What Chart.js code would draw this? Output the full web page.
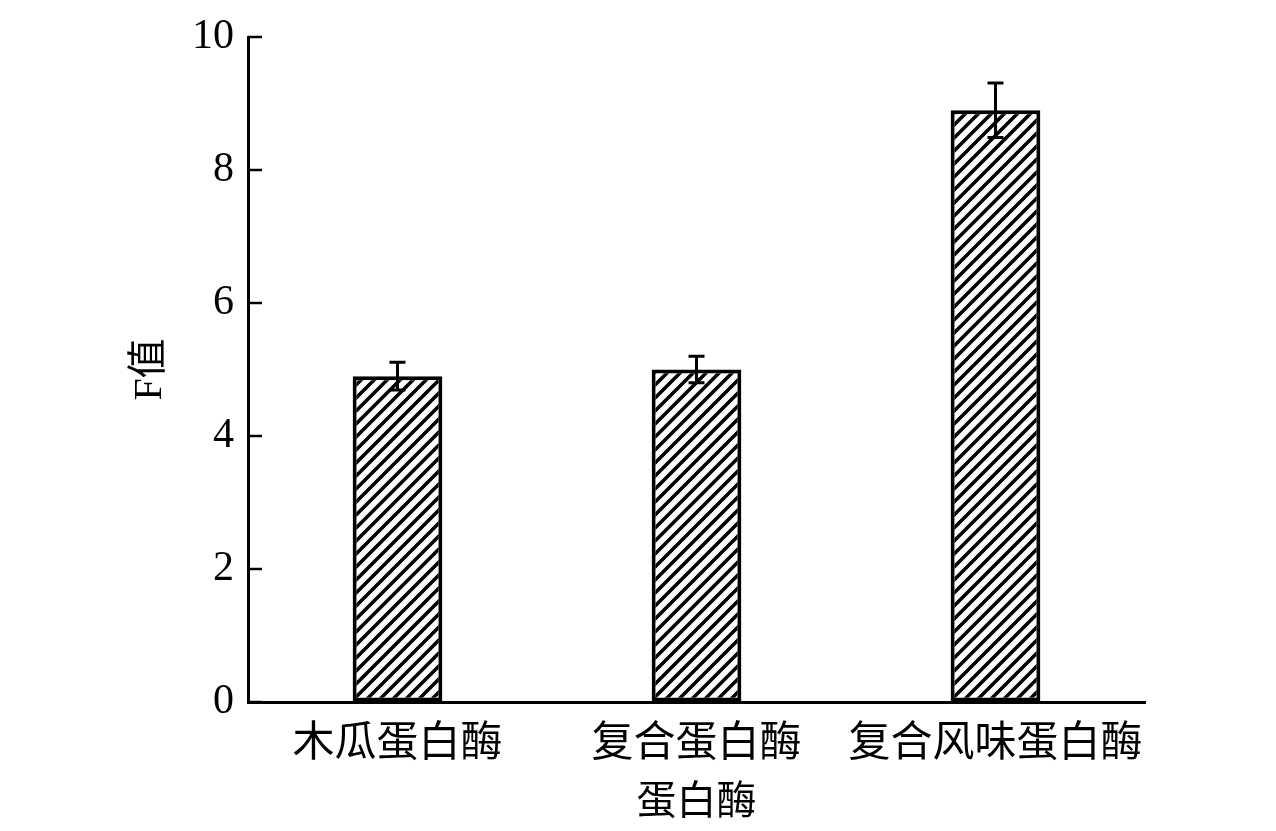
<!DOCTYPE html>
<html>
<head>
<meta charset="utf-8">
<script src="https://cdn.jsdelivr.net/npm/chart.js@4"></script>
<style>
  html, body { margin: 0; padding: 0; background: #fff; }
  #wrap { width: 1276px; height: 831px; }
</style>
</head>
<body>
<div id="wrap"><canvas id="chartCanvas" width="1276" height="831"></canvas></div>
<script>
"use strict";

const categories = ['木瓜蛋白酶', '复合蛋白酶', '复合风味蛋白酶'];
const fValues = [4.9, 5.0, 8.9];
const fErrors = [0.21, 0.2, 0.41];
const yTicks = [0, 2, 4, 6, 8, 10];

const FONT = "'Liberation Serif', 'Noto Sans CJK SC', serif";

function hatchPattern() {
    const size = 13;
    const c = document.createElement('canvas');
    c.width = size;
    c.height = size;
    const g = c.getContext('2d');
    g.fillStyle = '#fff';
    g.fillRect(0, 0, size, size);
    g.strokeStyle = '#000';
    g.lineWidth = 3.6;
    g.beginPath();
    g.moveTo(-3, size + 3); g.lineTo(size + 3, -3);
    g.moveTo(-3, 3); g.lineTo(3, -3);
    g.moveTo(size - 3, size + 3); g.lineTo(size + 3, size - 3);
    g.stroke();
    return g.createPattern(c, 'repeat');
}

const errorBars = {
    id: 'errorBars',
    afterDatasetsDraw(chart) {
        const ctx = chart.ctx;
        const y = chart.scales.y;
        const meta = chart.getDatasetMeta(0);
        ctx.save();
        ctx.strokeStyle = '#000';
        ctx.lineWidth = 3;
        meta.data.forEach((bar, i) => {
            const top = y.getPixelForValue(fValues[i] + fErrors[i]);
            const bot = y.getPixelForValue(fValues[i] - fErrors[i]);
            ctx.beginPath();
            ctx.moveTo(bar.x, top); ctx.lineTo(bar.x, bot);
            ctx.moveTo(bar.x - 8, top); ctx.lineTo(bar.x + 8, top);
            ctx.moveTo(bar.x - 8, bot); ctx.lineTo(bar.x + 8, bot);
            ctx.stroke();
        });
        ctx.restore();
    }
};

// tick marks point into the plot
const innerTicks = {
    id: 'innerTicks',
    afterDraw(chart) {
        const ctx = chart.ctx;
        const y = chart.scales.y;
        const left = chart.chartArea.left;
        ctx.save();
        ctx.strokeStyle = '#000';
        ctx.lineWidth = 2.5;
        y.ticks.forEach(t => {
            const py = y.getPixelForValue(t.value);
            ctx.beginPath();
            ctx.moveTo(left, py); ctx.lineTo(left + 14, py);
            ctx.stroke();
        });
        ctx.restore();
    }
};

const ctx = document.getElementById('chartCanvas').getContext('2d');
const chart = new Chart(ctx, {
    type: 'bar',
    data: {
        labels: categories,
        datasets: [{
            data: fValues,
            backgroundColor: hatchPattern(),
            borderColor: '#000',
            borderWidth: 4,
            borderSkipped: false,
            barPercentage: 0.3,
            categoryPercentage: 1.0
        }]
    },
    options: {
        responsive: false,
        animation: false,
        devicePixelRatio: 1,
        layout: { padding: { left: 126, right: 131, top: 37, bottom: 4 } },
        plugins: {
            legend: { display: false },
            tooltip: { enabled: false }
        },
        scales: {
            x: {
                grid: { display: false, drawTicks: false },
                border: { color: '#000', width: 3 },
                ticks: {
                    color: '#000',
                    padding: 18,
                    autoSkip: false,
                    maxRotation: 0,
                    minRotation: 0,
                    font: { family: FONT, size: 42 }
                },
                title: {
                    display: true,
                    text: '蛋白酶',
                    color: '#000',
                    padding: 0,
                    font: { family: FONT, size: 40 }
                },
                afterFit(scale) { scale.height = 125; }
            },
            y: {
                min: 0,
                max: 10,
                afterBuildTicks(scale) {
                    scale.ticks = yTicks.map(v => ({ value: v }));
                },
                grid: { display: true, drawOnChartArea: false, drawTicks: false },
                border: { color: '#000', width: 3 },
                ticks: {
                    color: '#000',
                    padding: 14,
                    font: { family: FONT, size: 42, lineHeight: 1.0 }
                },
                title: {
                    display: true,
                    text: 'F值',
                    color: '#000',
                    padding: 0,
                    font: { family: FONT, size: 40 }
                },
                afterFit(scale) { scale.width = 122; }
            }
        }
    },
    plugins: [errorBars, innerTicks]
});
</script>
</body>
</html>
